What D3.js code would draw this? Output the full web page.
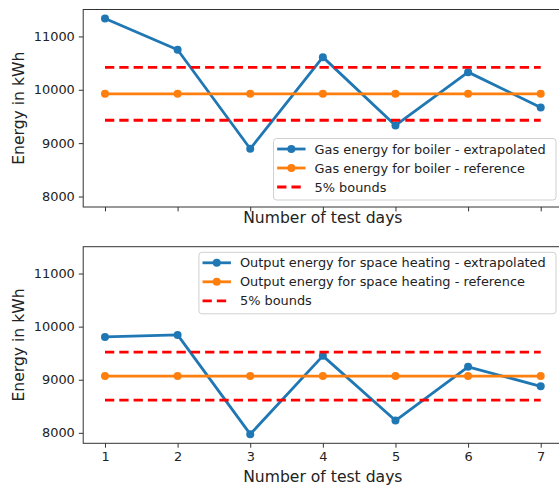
<!DOCTYPE html>
<html>
<head>
<meta charset="utf-8">
<script src="https://cdn.jsdelivr.net/npm/d3@7"></script>
<style>
  html, body { margin: 0; padding: 0; background: #fff; }
  svg { display: block; font-family: "DejaVu Sans", sans-serif; }
</style>
</head>
<body>
<svg id="chart" width="559" height="489"></svg>
<script>
// ---- data ----
const days = [1, 2, 3, 4, 5, 6, 7];
const gasExtrapolated = [11337, 10750, 8894, 10612, 9331, 10331, 9669];
const gasReference = 9925;
const heatExtrapolated = [9806, 9844, 7975, 9450, 8231, 9244, 8875];
const heatReference = 9068;
const boundFraction = 0.05;
const yTicks = [8000, 9000, 10000, 11000];
const xTicks = [1, 2, 3, 4, 5, 6, 7];
const yLabel = "Energy in kWh";
const xLabel = "Number of test days";
const gasLabels = ["Gas energy for boiler - extrapolated", "Gas energy for boiler - reference", "5% bounds"];
const heatLabels = ["Output energy for space heating - extrapolated", "Output energy for space heating - reference", "5% bounds"];

// ---- layout ----
const svg = d3.select("#chart");
const left = 83.2, right = 562.5;
const yDomain = [7803, 11505];
const BLUE = "#1f77b4", ORANGE = "#ff7f0e", RED = "#ff0000";
const LW = 2.8, MR = 4;
const TICK_FS = "12.9px", LEG_FS = "12.9px", LAB_FS = "15.6px";

const x = d3.scaleLinear().domain([0.7, 7.3]).range([left, right]);

function panel(top, bottom, extrap, ref, labels, showXTickLabels, legendPos) {
  const y = d3.scaleLinear().domain(yDomain).range([bottom, top]);
  const g = svg.append("g");
  const clipId = "clip" + Math.round(top);
  svg.append("clipPath").attr("id", clipId).append("rect")
    .attr("x", left).attr("y", top).attr("width", right - left).attr("height", bottom - top);
  const plot = g.append("g").attr("clip-path", `url(#${clipId})`);

  const line = d3.line().x(d => x(d[0])).y(d => y(d[1]));
  const extrapPts = days.map((d, i) => [d, extrap[i]]);
  const refPts = days.map(d => [d, ref]);

  plot.append("path").attr("d", line(extrapPts)).attr("fill", "none")
    .attr("stroke", BLUE).attr("stroke-width", LW).attr("stroke-linejoin", "round");
  plot.selectAll(".mb").data(extrapPts).enter().append("circle")
    .attr("cx", d => x(d[0])).attr("cy", d => y(d[1])).attr("r", MR).attr("fill", BLUE);

  plot.append("path").attr("d", line(refPts)).attr("fill", "none")
    .attr("stroke", ORANGE).attr("stroke-width", LW);
  plot.selectAll(".mo").data(refPts).enter().append("circle")
    .attr("cx", d => x(d[0])).attr("cy", d => y(d[1])).attr("r", MR).attr("fill", ORANGE);

  [1 + boundFraction, 1 - boundFraction].forEach(f => {
    const pts = [[days[0], ref * f], [days[days.length - 1], ref * f]];
    plot.append("path").attr("d", line(pts)).attr("fill", "none")
      .attr("stroke", RED).attr("stroke-width", LW).attr("stroke-dasharray", "9.3,5");
  });

  // axes
  const yAxis = d3.axisLeft(y).tickValues(yTicks).tickSize(4.4).tickPadding(4).tickFormat(d3.format("d"));
  const ya = g.append("g").attr("transform", `translate(${left},0)`).call(yAxis);
  const xAxis = d3.axisBottom(x).tickValues(xTicks).tickSize(4.4).tickPadding(4)
    .tickFormat(showXTickLabels ? d3.format("d") : () => "");
  const xa = g.append("g").attr("transform", `translate(0,${bottom})`).call(xAxis);
  [ya, xa].forEach(a => {
    a.select(".domain").remove();
    a.selectAll("line").attr("stroke", "#333").attr("stroke-width", 1);
    a.selectAll("text").attr("fill", "#222").style("font-size", TICK_FS).style("font-family", "DejaVu Sans");
  });
  // spines
  g.append("rect").attr("x", left).attr("y", top).attr("width", right - left).attr("height", bottom - top)
    .attr("fill", "none").attr("stroke", "#333").attr("stroke-width", 1);

  // labels
  g.append("text").attr("transform", `translate(18.5,${(top + bottom) / 2}) rotate(-90)`)
    .attr("text-anchor", "middle").attr("dominant-baseline", "central")
    .style("font-size", LAB_FS).attr("fill", "#222").text(yLabel);
  g.append("text").attr("x", (left + right) / 2).attr("y", showXTickLabels ? bottom + 34 : bottom + 11)
    .attr("text-anchor", "middle").attr("dominant-baseline", "central")
    .style("font-size", LAB_FS).attr("fill", "#222").text(xLabel);

  // legend
  const lg = svg.append("g");
  const box = lg.append("rect").attr("rx", 3).attr("ry", 3)
    .attr("fill", "white").attr("fill-opacity", 0.85).attr("stroke", "#d0d0d0").attr("stroke-width", 1);
  const rowH = 19;
  const texts = [];
  labels.forEach((lab, i) => {
    const t = lg.append("text").attr("x", 41).attr("y", 10.5 + i * rowH)
      .attr("dominant-baseline", "central").style("font-size", LEG_FS).attr("fill", "#222").text(lab);
    texts.push(t);
    const hx0 = 3.6, hx1 = 32;
    if (i < 2) {
      const c = i === 0 ? BLUE : ORANGE;
      lg.append("line").attr("x1", hx0).attr("x2", hx1).attr("y1", 10.5 + i * rowH).attr("y2", 10.5 + i * rowH)
        .attr("stroke", c).attr("stroke-width", LW);
      lg.append("circle").attr("cx", (hx0 + hx1) / 2).attr("cy", 10.5 + i * rowH).attr("r", MR).attr("fill", c);
    } else {
      lg.append("line").attr("x1", hx0).attr("x2", hx1).attr("y1", 10.5 + i * rowH).attr("y2", 10.5 + i * rowH)
        .attr("stroke", RED).attr("stroke-width", LW).attr("stroke-dasharray", "9.3,5");
    }
  });
  const maxW = d3.max(texts, t => t.node().getComputedTextLength());
  const w = 41 + maxW + 10.3, h = 61.5;
  box.attr("x", 0).attr("y", 0).attr("width", w).attr("height", h);
  const lx = 556 - w;
  const ly = legendPos === "lower" ? bottom - 7 - h : top + 5.6;
  lg.attr("transform", `translate(${lx},${ly})`);
}

panel(9.5, 207, gasExtrapolated, gasReference, gasLabels, false, "lower");
panel(246.7, 443.3, heatExtrapolated, heatReference, heatLabels, true, "upper");
</script>
</body>
</html>
